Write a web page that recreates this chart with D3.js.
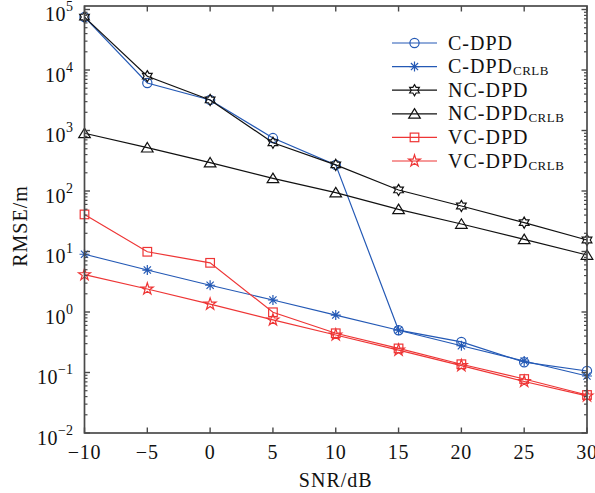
<!DOCTYPE html>
<html><head><meta charset="utf-8">
<script src="https://cdn.jsdelivr.net/npm/d3@7"></script>
<style>body{margin:0;background:#fff}</style>
</head><body><svg id="chart" width="595" height="493"></svg>
<script>
// ---- data ----
const snr = [-10, -5, 0, 5, 10, 15, 20, 25, 30];
const cDPD      = [75000, 6100, 3200, 750, 270, 0.50, 0.32, 0.148, 0.106];
const cDPDcrlb  = [9.0, 4.94, 2.77, 1.58, 0.89, 0.50, 0.277, 0.155, 0.0875];
const ncDPD     = [75000, 7900, 3200, 628, 270, 104, 56.5, 30, 15.5];
const ncDPDcrlb = [900, 520, 294, 162, 94, 49.8, 28.5, 15.9, 8.75];
const vcDPD     = [41, 9.9, 6.5, 0.99, 0.445, 0.25, 0.137, 0.078, 0.0425];
const vcDPDcrlb = [4.14, 2.4, 1.35, 0.74, 0.417, 0.235, 0.13, 0.071, 0.041];
const seriesNames = ["C-DPD", "C-DPD", "NC-DPD", "NC-DPD", "VC-DPD", "VC-DPD"];
const seriesSubs  = ["", "CRLB", "", "CRLB", "", "CRLB"];
const xTicks = [-10, -5, 0, 5, 10, 15, 20, 25, 30];
const yTickExps = [-2, -1, 0, 1, 2, 3, 4, 5];
const xLabel = "SNR/dB";
const yLabel = "RMSE/m";

// ---- styles ----
const BLUE = "#2459b5", RED = "#ee3535", BLACK = "#111";
const series = [
  {vals: cDPD, color: BLUE, marker: "circle"},
  {vals: cDPDcrlb, color: BLUE, marker: "asterisk"},
  {vals: ncDPD, color: BLACK, marker: "hexagram"},
  {vals: ncDPDcrlb, color: BLACK, marker: "triangle"},
  {vals: vcDPD, color: RED, marker: "square"},
  {vals: vcDPDcrlb, color: RED, marker: "pentagram"}
];

const svg = d3.select("#chart");
const L = 84.5, R = 587, T = 6, B = 433;
const x = d3.scaleLinear().domain([-10, 30]).range([L, R]);
const y = d3.scaleLog().domain([1e-2, Math.pow(10, 5.058)]).range([B, T]);
const FONT = "'Liberation Serif', 'Times New Roman', serif";
const AX = "#4a4a4a";

// markers
function starPath(n, Ro, Ri, rot) {
  const pts = [];
  for (let i = 0; i < 2 * n; i++) {
    const r = i % 2 === 0 ? Ro : Ri;
    const a = rot + i * Math.PI / n;
    pts.push([r * Math.sin(a), -r * Math.cos(a)]);
  }
  return "M" + pts.map(p => p[0].toFixed(2) + "," + p[1].toFixed(2)).join("L") + "Z";
}
function drawMarker(g, type, cx, cy, color) {
  const s = g.append("g").attr("transform", `translate(${cx},${cy})`)
    .attr("fill", "none").attr("stroke", color).attr("stroke-width", 1.2);
  if (type === "circle") s.append("circle").attr("r", 4.6);
  else if (type === "square") s.append("rect").attr("x", -4.3).attr("y", -4.3).attr("width", 8.6).attr("height", 8.6);
  else if (type === "triangle") s.append("path").attr("d", "M0,-5.2L5.8,4.3L-5.8,4.3Z");
  else if (type === "hexagram") s.append("path").attr("d", starPath(6, 5.6, 5.6 / Math.sqrt(3), 0));
  else if (type === "pentagram") s.append("path").attr("d", starPath(5, 6.2, 6.2 * 0.382, 0));
  else if (type === "asterisk") {
    const a = 5, d = a * 0.72;
    s.append("path").attr("d", `M${-a},0L${a},0M0,${-a}L0,${a}M${-d},${-d}L${d},${d}M${-d},${d}L${d},${-d}`);
  }
}

// series lines + markers
const line = d3.line().x((d, i) => x(snr[i])).y(d => y(d));
const gData = svg.append("g");
series.forEach(s => {
  gData.append("path").attr("d", line(s.vals)).attr("fill", "none")
    .attr("stroke", s.color).attr("stroke-width", 1.2);
  s.vals.forEach((v, i) => drawMarker(gData, s.marker, x(snr[i]), y(v), s.color));
});

// axes box
const gAx = svg.append("g").attr("stroke", AX).attr("fill", "none");
gAx.append("rect").attr("x", L).attr("y", T).attr("width", R - L).attr("height", B - T).attr("stroke-width", 1.7);

// x ticks (bottom and top, inward)
xTicks.forEach(t => {
  const px = x(t);
  gAx.append("line").attr("x1", px).attr("x2", px).attr("y1", B).attr("y2", B - 5.5).attr("stroke-width", 1.4);
  gAx.append("line").attr("x1", px).attr("x2", px).attr("y1", T).attr("y2", T + 5.5).attr("stroke-width", 1.4);
});
// y ticks major and minor (left and right, inward)
yTickExps.forEach(e => {
  const py = y(Math.pow(10, e));
  gAx.append("line").attr("x1", L).attr("x2", L + 5.5).attr("y1", py).attr("y2", py).attr("stroke-width", 1.4);
  gAx.append("line").attr("x1", R).attr("x2", R - 5.5).attr("y1", py).attr("y2", py).attr("stroke-width", 1.4);
  if (e < 5) {
    for (let k = 2; k <= 9; k++) {
      const pm = y(k * Math.pow(10, e));
      gAx.append("line").attr("x1", L).attr("x2", L + 3).attr("y1", pm).attr("y2", pm).attr("stroke-width", 1.2);
      gAx.append("line").attr("x1", R).attr("x2", R - 3).attr("y1", pm).attr("y2", pm).attr("stroke-width", 1.2);
    }
  }
});

// tick labels
const gTxt = svg.append("g").attr("font-family", FONT).attr("fill", "#111");
xTicks.forEach(t => {
  gTxt.append("text").attr("x", x(t)).attr("y", 459).attr("text-anchor", "middle")
    .attr("font-size", 20).attr("letter-spacing", 0.8)
    .text(t < 0 ? "\u2212" + Math.abs(t) : String(t));
});
yTickExps.forEach(e => {
  const py = y(Math.pow(10, e));
  const t = gTxt.append("text").attr("x", 73).attr("y", py + 11.5).attr("text-anchor", "end");
  t.append("tspan").attr("font-size", 20).attr("letter-spacing", 0.5).text("10");
  t.append("tspan").attr("font-size", 14).attr("dy", -10).text(e < 0 ? "\u2212" + Math.abs(e) : String(e));
});

// axis labels
gTxt.append("text").attr("x", (L + R) / 2).attr("y", 487).attr("text-anchor", "middle")
  .attr("font-size", 20).attr("letter-spacing", 1).text(xLabel);
gTxt.append("text").attr("transform", "translate(27,226) rotate(-90)").attr("text-anchor", "middle")
  .attr("font-size", 20).attr("letter-spacing", 1).text(yLabel);

// legend
const gLeg = svg.append("g");
series.forEach((s, i) => {
  const ly = 43 + i * 23.6;
  gLeg.append("line").attr("x1", 392).attr("x2", 437).attr("y1", ly).attr("y2", ly)
    .attr("stroke", s.color).attr("stroke-width", 1.2);
  drawMarker(gLeg, s.marker, 414.5, ly, s.color);
  const t = gLeg.append("text").attr("x", 448).attr("y", ly + 6.5)
    .attr("font-family", FONT).attr("fill", "#111");
  t.append("tspan").attr("font-size", 20).attr("letter-spacing", 1).text(seriesNames[i]);
  if (seriesSubs[i]) t.append("tspan").attr("font-size", 13).attr("dy", 2).attr("letter-spacing", 0.5).text(seriesSubs[i]);
});
</script>
</body></html>
